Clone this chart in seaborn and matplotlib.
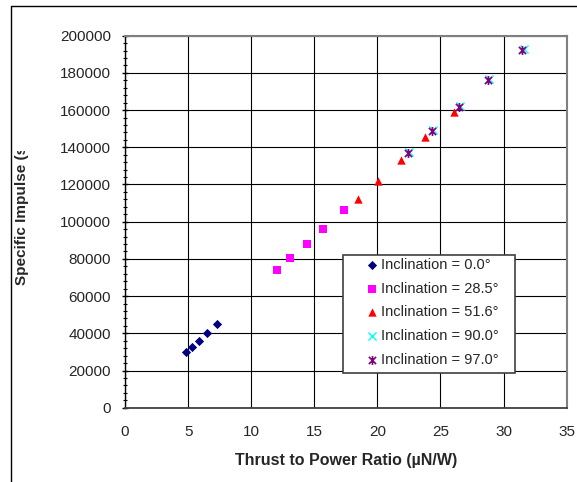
import numpy as np
import pandas as pd
import matplotlib
matplotlib.use("Agg")
import matplotlib.pyplot as plt
import seaborn as sns
from matplotlib.path import Path
from matplotlib.lines import Line2D
from matplotlib.patches import Rectangle
from matplotlib.ticker import MultipleLocator, FuncFormatter
from matplotlib.transforms import Bbox

# Specific impulse vs thrust-to-power ratio, grouped by orbit inclination
thrust_00 = [4.81, 5.34, 5.89, 6.52, 7.32]
isp_00 = [29800, 32600, 35900, 40200, 45000]

thrust_285 = [12.04, 13.10, 14.40, 15.72, 17.33]
isp_285 = [73900, 80600, 87800, 96200, 106100]

thrust_516 = [18.44, 20.05, 21.85, 23.80, 26.05]
isp_516 = [112200, 122000, 133000, 145400, 159100]

thrust_900 = [22.50, 24.40, 26.55, 28.86, 31.58]
isp_900 = [137600, 149100, 162000, 176700, 192800]

thrust_970 = [22.40, 24.30, 26.44, 28.76, 31.48]
isp_970 = [137100, 148600, 161500, 176200, 192300]

labels = ["Inclination = 0.0°", "Inclination = 28.5°", "Inclination = 51.6°",
          "Inclination = 90.0°", "Inclination = 97.0°"]

frames = []
for lab, xs, ys in zip(labels,
                       [thrust_00, thrust_285, thrust_516, thrust_900, thrust_970],
                       [isp_00, isp_285, isp_516, isp_900, isp_970]):
    frames.append(pd.DataFrame({"thrust": xs, "isp": ys, "series": lab}))
df = pd.concat(frames, ignore_index=True)

# Excel-style star: an X crossed by a vertical bar
star = Path([(-1, -1), (1, 1), (-1, 1), (1, -1), (0, -1.25), (0, 1.25)],
            [Path.MOVETO, Path.LINETO, Path.MOVETO, Path.LINETO, Path.MOVETO, Path.LINETO])

styles = {
    labels[0]: dict(marker="D", color="#000080", s=22, linewidth=0),
    labels[1]: dict(marker="s", color="#FF00FF", s=30, linewidth=0),
    labels[2]: dict(marker="^", color="#FF0000", s=36, linewidth=0),
    labels[3]: dict(marker="x", color="#00FFFF", s=34, linewidth=1.0),
    labels[4]: dict(marker=star, color="#800080", s=42, linewidth=1.2, edgecolor="#800080"),
}

sns.set_style("white")
plt.rcParams["font.family"] = ["Liberation Sans", "DejaVu Sans"]

fig = plt.figure(figsize=(5.77, 4.82), dpi=100)
ax = fig.add_axes([125 / 577, 1 - 407.7 / 482, (566.7 - 125) / 577, (407.7 - 35.7) / 482])

for lab in labels:
    sub = df[df["series"] == lab]
    sns.scatterplot(data=sub, x="thrust", y="isp", ax=ax, label=lab, zorder=3, **styles[lab])

ax.set_xlim(0, 35)
ax.set_ylim(0, 200000)
ax.xaxis.set_major_locator(MultipleLocator(5))
ax.yaxis.set_major_locator(MultipleLocator(20000))
ax.yaxis.set_minor_locator(MultipleLocator(4000))
ax.yaxis.set_major_formatter(FuncFormatter(lambda v, p: f"{v:.0f}"))

ax.tick_params(axis="x", which="major", direction="inout", length=5, width=1,
               color="black", labelsize=11, pad=10)
ax.tick_params(axis="y", which="major", direction="inout", length=4.5, width=1,
               color="black", labelsize=11, pad=8, left=True)
ax.tick_params(axis="y", which="minor", direction="inout", length=3, width=0.8,
               color="black", left=True)

ax.set_axisbelow(True)
ax.grid(True, which="major", color="black", linewidth=0.8)

for side in ("top", "right"):
    ax.spines[side].set_visible(True)
    ax.spines[side].set_color("#808080")
    ax.spines[side].set_linewidth(1.5)
ax.spines["left"].set_color("black")
ax.spines["left"].set_linewidth(1.0)
ax.spines["bottom"].set_color("#404040")
ax.spines["bottom"].set_linewidth(1.3)

ax.set_xlabel("Thrust to Power Ratio (µN/W)", fontsize=11.5, fontweight="bold", labelpad=10)
ax.set_ylabel("")

# Vertical axis title, clipped at the chart-area edge
ylab = fig.text(22 / 577, 1 - 285 / 482, "Specific Impulse (s)", rotation=90,
                ha="center", va="bottom", fontsize=11, fontweight="bold")
ylab.set_clip_box(Bbox.from_extents(0, 0, 577, 482 - 151))
ylab.set_clip_on(True)

# Legend box
ax.add_patch(Rectangle((343 / 577, 1 - 373 / 482), (515 - 343) / 577, (373 - 255) / 482,
                       transform=fig.transFigure, facecolor="white", edgecolor="#404040",
                       linewidth=1.2, clip_on=False, zorder=4))
leg = ax.legend(loc="upper left", bbox_to_anchor=(366 / 577, 1 - 258 / 482),
                bbox_transform=fig.transFigure, frameon=False, borderpad=0,
                borderaxespad=0, handlelength=0.8, handletextpad=0.2,
                labelspacing=0.66, fontsize=10.5)
leg.set_zorder(5)

# Outer chart border
fig.add_artist(Line2D([11 / 577, 1], [1 - 6 / 482, 1 - 6 / 482],
                      transform=fig.transFigure, color="black", linewidth=1))
fig.add_artist(Line2D([11 / 577, 11 / 577], [0, 1 - 6 / 482],
                      transform=fig.transFigure, color="black", linewidth=1))

fig.savefig("out.png", dpi=100, facecolor="white")
